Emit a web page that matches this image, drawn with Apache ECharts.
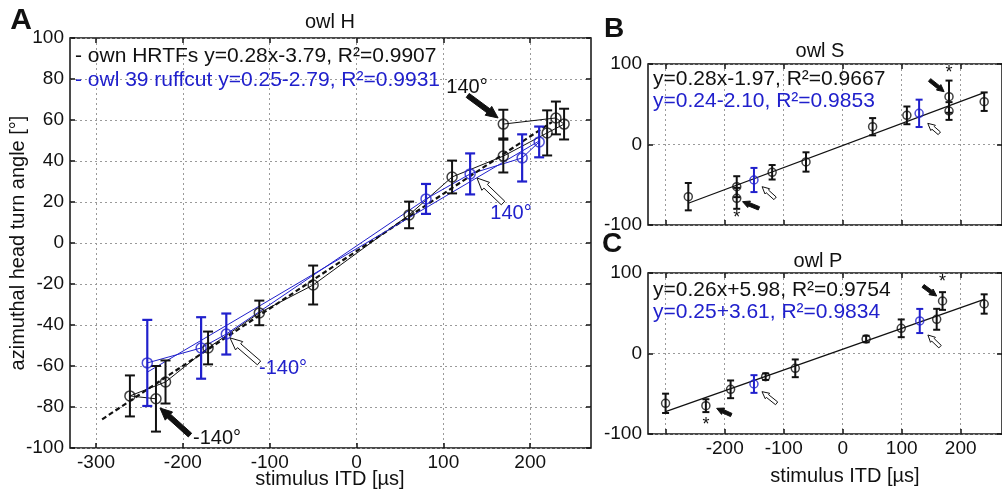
<!DOCTYPE html>
<html>
<head>
<meta charset="utf-8">
<script src="https://cdn.jsdelivr.net/npm/echarts@6/dist/echarts.min.js"></script>
<style>
html, body { margin: 0; padding: 0; background: #fff; }
#chart { width: 1002px; height: 495px; }
</style>
</head>
<body>
<div id="chart"></div>
<script>
// ---- panel A : owl H ----
var aBlackX = [-231, -261, -220, -171, -112, -50, 60.5, 110, 169, 219.5, 239, 229.6, 169];
var aBlackY = [-76, -74.6, -67.8, -51.2, -34.1, -20.5, 13.7, 32.2, 42.4, 53.7, 58, 61, 58];
var aBlackErr = [16, 10, 10.5, 8, 6, 9.5, 6.5, 8, 8, 11, 7.5, 8, 7];
var aBlueX = [-241, -179, -150, 80, 130.8, 190.7, 210.3];
var aBlueY = [-58.5, -51.2, -44.4, 21.5, 33.7, 41.5, 49.3];
var aBlueErr = [21, 15, 10, 7.3, 10, 11.5, 7.5];
var aFitBlackX = [-293, 225], aFitBlackY = [-86, 59];
var aFitBlueX = [-241, 210], aFitBlueY = [-63, 49.7];
// arrows: tailX, tailY, headX, headY, filled
var aArrows = [[128, 72, 163, 61, 1], [168.7, 19.5, 138.7, 31.7, 0], [-112.3, -58.5, -145.7, -46.3, 0], [-191.8, -93.7, -226.4, -80.5, 1]];

// ---- panel B : owl S ----
var bBlackX = [-261.7, -179.6, -179.6, -119.6, -62.2, 50.7, 108.8, 180.2, 180.2, 239.8];
var bBlackY = [-64.8, -52.4, -66.9, -34.5, -21.7, 22.1, 36.2, 41.6, 59.4, 53.2];
var bBlackErr = [17, 13, 13, 9, 12, 10.7, 11, 11, 20, 11.5];
var bBlueX = [-150.4, 129.5], bBlueY = [-44.1, 38.7], bBlueErr = [15, 17];
var bFitX = [-261.7, 239.8], bFitY = [-73, 64.4];
var bArrows = [[-142, -79.3, -169.7, -71, 1], [147.2, 80.1, 171.9, 65.6, 1], [-114.6, -66.9, -136.6, -52.4, 0], [163.8, 13.9, 144.2, 26.3, 0]];
var bStars = [[-179.6, -91], [180.2, 89]];

// ---- panel C : owl P ----
var cBlackX = [-300.2, -231.9, -190, -130.6, -80.4, 39.7, 99.2, 159.3, 169.2, 239.8];
var cBlackY = [-61.9, -64.8, -44.5, -28.8, -18.4, 18, 31.3, 42.5, 65.2, 61.5];
var cBlackErr = [12, 8, 11, 4, 11, 4, 11, 13, 11, 12];
var cBlueX = [-150.4, 130.6], cBlueY = [-37.9, 40.4], cBlueErr = [11, 15];
var cFitX = [-300.2, 239.8], cFitY = [-72.3, 67.3];
var cArrows = [[-188.9, -76.4, -213.6, -68.1, 1], [136.2, 83.9, 159.3, 71.4, 1], [-112, -61.9, -136.8, -47.4, 0], [165, 8.5, 144.4, 23, 0]];
var cStars = [[-231.9, -89], [169.2, 89]];

var xTicks = [-300, -200, -100, 0, 100, 200];
var xLabelsC = [-200, -100, 0, 100, 200];

var FONT = '"Liberation Sans", Arial, sans-serif';
var INK = '#111';
var BLUE = '#2020cc';

function pts(xs, ys) { return xs.map(function (x, i) { return [x, ys[i]]; }); }
function bars(xs, ys, es) { return xs.map(function (x, i) { return [x, ys[i] - es[i], ys[i] + es[i]]; }); }

function errSeries(idx, data, color, cap, lw) {
    return {
        type: 'custom', xAxisIndex: idx, yAxisIndex: idx, data: data, z: 3, silent: true,
        renderItem: function (params, api) {
            var lo = api.coord([api.value(0), api.value(1)]);
            var hi = api.coord([api.value(0), api.value(2)]);
            var st = { stroke: color, lineWidth: lw };
            return {
                type: 'group', children: [
                    { type: 'line', shape: { x1: lo[0], y1: lo[1], x2: hi[0], y2: hi[1] }, style: st },
                    { type: 'line', shape: { x1: lo[0] - cap, y1: lo[1], x2: lo[0] + cap, y2: lo[1] }, style: st },
                    { type: 'line', shape: { x1: hi[0] - cap, y1: hi[1], x2: hi[0] + cap, y2: hi[1] }, style: st }
                ]
            };
        }
    };
}

function arrowSeries(idx, data, sz) {
    return {
        type: 'custom', xAxisIndex: idx, yAxisIndex: idx, data: data, z: 6, silent: true,
        renderItem: function (params, api) {
            var t = api.coord([api.value(0), api.value(1)]);
            var h = api.coord([api.value(2), api.value(3)]);
            var dx = h[0] - t[0], dy = h[1] - t[1], L = Math.sqrt(dx * dx + dy * dy);
            var ux = dx / L, uy = dy / L, nx = -uy, ny = ux;
            var sw = sz.shaft / 2, hw = sz.head / 2;
            var bx = h[0] - ux * sz.len, by = h[1] - uy * sz.len;
            var p = [
                [t[0] + nx * sw, t[1] + ny * sw], [bx + nx * sw, by + ny * sw], [bx + nx * hw, by + ny * hw],
                [h[0], h[1]],
                [bx - nx * hw, by - ny * hw], [bx - nx * sw, by - ny * sw], [t[0] - nx * sw, t[1] - ny * sw]
            ];
            return { type: 'polygon', shape: { points: p }, style: { fill: api.value(4) === 1 ? INK : '#fff', stroke: INK, lineWidth: 1 } };
        }
    };
}

function starSeries(idx, data) {
    return {
        type: 'custom', xAxisIndex: idx, yAxisIndex: idx, data: data, z: 6, silent: true,
        renderItem: function (params, api) {
            var p = api.coord([api.value(0), api.value(1)]);
            return { type: 'text', x: p[0], y: p[1], style: { text: '*', font: '18px ' + FONT, fill: INK, align: 'center', verticalAlign: 'middle' } };
        }
    };
}

function lineSeries(idx, data, color, width, type) {
    return {
        type: 'line', xAxisIndex: idx, yAxisIndex: idx, data: data, symbol: 'none', z: 2, silent: true,
        lineStyle: { color: color, width: width, type: type || 'solid' }
    };
}

function circles(idx, data, color, size) {
    return {
        type: 'scatter', xAxisIndex: idx, yAxisIndex: idx, data: data, symbol: 'circle', symbolSize: size, z: 4, silent: true,
        itemStyle: { color: 'rgba(0,0,0,0)', borderColor: color, borderWidth: 1.5 }
    };
}

var gridLine = { show: true, lineStyle: { color: '#9a9a9a', width: 1, type: [2, 3] } };
var tickStyle = { color: INK, width: 1.5 };
var labelStyle = { color: INK, fontFamily: FONT, fontSize: 19 };

function xAx(grid, pos, labelVals) {
    return {
        type: 'value', gridIndex: grid, position: pos, min: -330, max: 270,
        axisLine: { show: false, onZero: false },
        axisTick: { show: true, inside: true, length: 5, lineStyle: tickStyle, customValues: xTicks },
        axisLabel: labelVals ? Object.assign({ show: true, margin: 5, customValues: labelVals }, labelStyle) : { show: false },
        splitLine: pos === 'bottom' ? gridLine : { show: false }
    };
}
function yAx(grid, pos, interval, labels) {
    return {
        type: 'value', gridIndex: grid, position: pos, min: -100, max: 100, interval: interval,
        axisLine: { show: false, onZero: false },
        axisTick: { show: true, inside: true, length: 5, lineStyle: tickStyle },
        axisLabel: labels ? Object.assign({ show: true, margin: 6 }, labelStyle) : { show: false },
        splitLine: pos === 'left' ? gridLine : { show: false }
    };
}

function txt(x, y, text, opt) {
    opt = opt || {};
    return {
        type: 'text', x: x, y: y, rotation: opt.rot || 0, z: 10, silent: true,
        style: {
            text: text, fill: opt.color || INK,
            font: (opt.bold ? 'bold ' : '') + (opt.size || 20) + 'px ' + FONT,
            align: opt.align || 'center', verticalAlign: 'middle',
            textAlign: opt.align || 'center', textVerticalAlign: 'middle'
        }
    };
}

var chart = echarts.init(document.getElementById('chart'), null, { renderer: 'canvas' });
var gridBox = { show: true, borderColor: INK, borderWidth: 1.5, backgroundColor: 'rgba(0,0,0,0)', containLabel: false };

chart.setOption({
    animation: false,
    backgroundColor: '#fff',
    grid: [
        Object.assign({ left: 70, top: 38, width: 521, height: 410 }, gridBox),
        Object.assign({ left: 648, top: 64, width: 363, height: 161 }, gridBox),
        Object.assign({ left: 648, top: 273, width: 363, height: 161 }, gridBox)
    ],
    xAxis: [
        xAx(0, 'bottom', xTicks), xAx(1, 'bottom', null), xAx(2, 'bottom', xLabelsC),
        xAx(0, 'top', null), xAx(1, 'top', null), xAx(2, 'top', null)
    ],
    yAxis: [
        yAx(0, 'left', 20, true), yAx(1, 'left', 100, true), yAx(2, 'left', 100, true),
        yAx(0, 'right', 20, false), yAx(1, 'right', 100, false), yAx(2, 'right', 100, false)
    ],
    series: [
        // A
        lineSeries(0, pts(aBlackX, aBlackY), INK, 1),
        lineSeries(0, pts(aBlueX, aBlueY), BLUE, 1),
        lineSeries(0, pts(aFitBlackX, aFitBlackY), INK, 2.2, [5, 3]),
        lineSeries(0, pts(aFitBlueX, aFitBlueY), BLUE, 1),
        errSeries(0, bars(aBlackX, aBlackY, aBlackErr), INK, 5, 2),
        errSeries(0, bars(aBlueX, aBlueY, aBlueErr), BLUE, 5, 2.2),
        circles(0, pts(aBlackX, aBlackY), INK, 10),
        circles(0, pts(aBlueX, aBlueY), BLUE, 10),
        arrowSeries(0, aArrows, { shaft: 5, head: 11, len: 12 }),
        // B
        lineSeries(1, pts(bFitX, bFitY), INK, 1.3),
        errSeries(1, bars(bBlackX, bBlackY, bBlackErr), INK, 3.5, 2),
        errSeries(1, bars(bBlueX, bBlueY, bBlueErr), BLUE, 3.5, 2),
        circles(1, pts(bBlackX, bBlackY), INK, 8),
        circles(1, pts(bBlueX, bBlueY), BLUE, 8),
        arrowSeries(1, bArrows, { shaft: 3.5, head: 7, len: 7 }),
        starSeries(1, bStars),
        // C
        lineSeries(2, pts(cFitX, cFitY), INK, 1.3),
        errSeries(2, bars(cBlackX, cBlackY, cBlackErr), INK, 3.5, 2),
        errSeries(2, bars(cBlueX, cBlueY, cBlueErr), BLUE, 3.5, 2),
        circles(2, pts(cBlackX, cBlackY), INK, 8),
        circles(2, pts(cBlueX, cBlueY), BLUE, 8),
        arrowSeries(2, cArrows, { shaft: 3.5, head: 7, len: 7 }),
        starSeries(2, cStars)
    ],
    graphic: [
        txt(21, 21, 'A', { bold: true, size: 30 }),
        txt(614, 29, 'B', { bold: true, size: 28 }),
        txt(612, 244, 'C', { bold: true, size: 28 }),
        txt(330, 22, 'owl H'),
        txt(820, 51, 'owl S'),
        txt(818, 261, 'owl P'),
        txt(18, 243, 'azimuthal head turn angle [°]', { rot: Math.PI / 2 }),
        txt(330, 479, 'stimulus ITD [µs]'),
        txt(845, 476, 'stimulus ITD [µs]'),
        txt(75, 56, '- own HRTFs y=0.28x-3.79, R²=0.9907', { align: 'left', size: 21 }),
        txt(75, 80, '- owl 39 ruffcut y=0.25-2.79, R²=0.9931', { align: 'left', size: 21, color: BLUE }),
        txt(653, 79, 'y=0.28x-1.97, R²=0.9667', { align: 'left', size: 21 }),
        txt(653, 101, 'y=0.24-2.10, R²=0.9853', { align: 'left', size: 21, color: BLUE }),
        txt(653, 290, 'y=0.26x+5.98, R²=0.9754', { align: 'left', size: 21 }),
        txt(653, 312, 'y=0.25+3.61, R²=0.9834', { align: 'left', size: 21, color: BLUE }),
        txt(467, 87, '140°'),
        txt(511, 213, '140°', { color: BLUE }),
        txt(283, 368, '-140°', { color: BLUE }),
        txt(217, 438, '-140°')
    ]
});
</script>
</body>
</html>
